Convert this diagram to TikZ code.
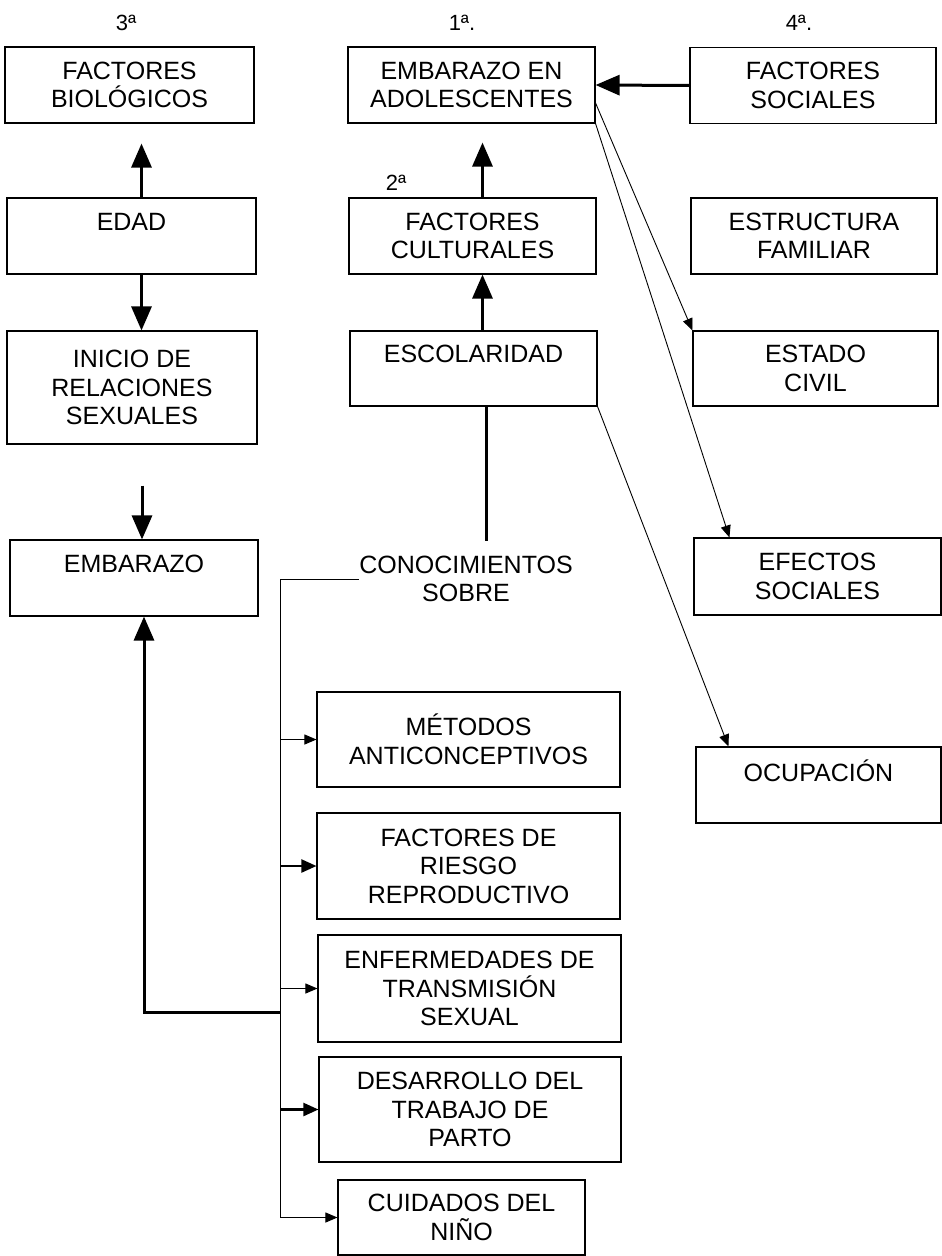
\documentclass[tikz,border=0pt]{standalone}
\usepackage{fontspec}
\setmainfont{Liberation Sans}
\usetikzlibrary{arrows.meta}

\begin{document}
\begin{tikzpicture}[x=1pt,y=-1pt,
	caja/.style={draw,line width=1.1pt,align=center,inner sep=0pt,font=\fontsize{25}{28.5}\selectfont},
	orden/.style={font=\fontsize{22}{24}\selectfont},
	grueso/.style={line width=3pt,-{Triangle[length=24pt,width=20pt]}},
	medio/.style={line width=2.2pt,-{Triangle[length=15pt,width=13pt]}},
	fino/.style={line width=0.9pt,-{Triangle[length=12pt,width=10pt]}}]
	\useasboundingbox (0,0) rectangle (942,1256);
	\node[orden] (n3) at (126,23) {3ª};
	\node[orden] (n1) at (462,23) {1ª.};
	\node[orden] (n4) at (799,23) {4ª.};
	\node[orden] (n2) at (396,183) {2ª};
	
	\node[caja,minimum width=249pt,minimum height=76pt] (biol) at (129.5,85) {FACTORES\\BIOLÓGICOS};
	\node[caja,minimum width=247pt,minimum height=76pt] (adol) at (471.5,85) {EMBARAZO EN\\ADOLESCENTES};
	\node[caja,minimum width=246pt,minimum height=76pt] (soc) at (813,85.5) {FACTORES\\SOCIALES};
	\node[caja,minimum width=249pt,minimum height=76pt] (edad) at (131.5,236) {EDAD\\\mbox{}};
	\node[caja,minimum width=247pt,minimum height=76pt] (cult) at (472.5,236) {FACTORES\\CULTURALES};
	\node[caja,minimum width=246pt,minimum height=76pt] (fam) at (814,236) {ESTRUCTURA\\FAMILIAR};
	\node[caja,minimum width=250pt,minimum height=113pt] (inicio) at (132,387.5) {INICIO DE\\RELACIONES\\SEXUALES};
	\node[caja,minimum width=247pt,minimum height=75pt] (esc) at (473.5,368.5) {ESCOLARIDAD\\\mbox{}};
	\node[caja,minimum width=245pt,minimum height=75pt] (civil) at (815.5,368.5) {ESTADO\\CIVIL};
	\node[caja,minimum width=248pt,minimum height=76pt] (emb) at (134,578) {EMBARAZO\\\mbox{}};
	\node[caja,draw=none] (conoc) at (466,579) {CONOCIMIENTOS\\SOBRE};
	\node[caja,minimum width=247pt,minimum height=77pt] (efec) at (817.5,576.5) {EFECTOS\\SOCIALES};
	\node[caja,minimum width=303pt,minimum height=95pt] (met) at (468.5,739.5) {MÉTODOS\\ANTICONCEPTIVOS};
	\node[caja,minimum width=245pt,minimum height=76pt] (ocup) at (818.5,785) {OCUPACIÓN\\\mbox{}};
	\node[caja,minimum width=303pt,minimum height=106pt] (riesgo) at (468.5,866) {FACTORES DE\\RIESGO\\REPRODUCTIVO};
	\node[caja,minimum width=303pt,minimum height=107pt] (enf) at (469.5,988.5) {ENFERMEDADES DE\\TRANSMISIÓN\\SEXUAL};
	\node[caja,minimum width=302pt,minimum height=105pt] (des) at (470,1109.5) {DESARROLLO DEL\\TRABAJO DE\\PARTO};
	\node[caja,minimum width=247pt,minimum height=75pt] (cuid) at (461.5,1217.5) {CUIDADOS DEL\\NIÑO};
	
	\coordinate (br) at (280,0);
	\coordinate (junc) at (280,1012);
	
	\draw[grueso,shorten >=20pt] ([xshift=10pt]edad.north) -- ([xshift=10pt]edad.north |- biol.south);
	\draw[grueso] ([xshift=10pt]edad.south) -- ([xshift=10pt]edad.south |- inicio.north);
	\draw[grueso,shorten <=41pt] ([xshift=10pt]inicio.south) -- ([xshift=10pt]inicio.south |- emb.north);
	\draw[grueso] (junc) -| ([xshift=10pt]emb.south);
	\draw[grueso,shorten >=19pt] ([xshift=10pt]cult.north) -- ([xshift=10pt]cult.north |- adol.south);
	\draw[grueso] ([xshift=9pt]esc.north) -- ([xshift=9pt]esc.north |- cult.south);
	\draw[grueso] (soc.west) -- (adol.east);
	\draw[line width=3pt,shorten >=14pt] ([xshift=12.5pt]esc.south) -- ([xshift=12.5pt]esc.south |- conoc.north);
	
	\draw[fino] ([yshift=-18pt]adol.east) -- (civil.north west);
	\draw[fino] (adol.south east) -- ([xshift=36pt]efec.north west);
	\draw[fino] (esc.south east) -- ([xshift=33pt]ocup.north west);
	
	\draw[fino] (conoc.west) -| (br |- cuid.west) -- (cuid.west);
	\foreach \n in {met,enf}
	\draw[fino] (br |- \n.west) -- (\n.west);
	\foreach \n in {riesgo,des}
	\draw[medio] (br |- \n.west) -- (\n.west);
\end{tikzpicture}
\end{document}
